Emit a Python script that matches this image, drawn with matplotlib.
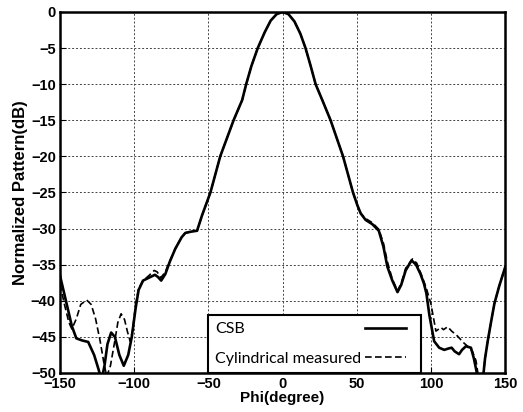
import matplotlib
matplotlib.use("Agg")
import matplotlib.pyplot as plt

# CSB (simulated) pattern, solid line
phi_csb = [-150, -146, -142, -139, -135, -131, -127, -124, -122, -120, -118, -115.5,
           -113, -110, -107, -104, -101.6, -99, -97, -94, -90, -86, -84, -81.8, -79,
           -76, -72.3, -68, -65.5, -61, -57.6, -54.3, -48.6, -42, -33, -27.2, -24.5,
           -21, -16.7, -12, -8, -4, 0, 4, 8, 12, 15.5, 19, 22.3, 26.8, 32.4, 40.8,
           47.5, 50.5, 52.7, 56, 60.6, 64.9, 68, 70.7, 74, 77.5, 80, 83, 87, 90, 93,
           95.3, 97, 99, 102.2, 105.6, 109, 112, 114, 116, 119, 121, 123.6, 127, 129,
           131, 133, 135, 136.5, 138.3, 140.5, 142.8, 146, 150]
csb_db = [-36.5, -40, -43.5, -45.2, -45.5, -45.7, -47.5, -49.5, -51, -49, -46, -44.4,
          -45, -47.5, -49, -47.5, -45, -41, -38.5, -37.2, -36.8, -36.4, -36.7, -37.2, -36.3,
          -34.6, -32.8, -31.2, -30.6, -30.4, -30.3, -28.2, -25, -20, -15, -12.2, -10,
          -7.5, -5, -2.8, -1.2, -0.3, 0, -0.3, -1.3, -3, -5, -7.5, -10, -12.2, -15, -20,
          -25, -26.8, -27.9, -28.8, -29.4, -30.3, -32.5, -35.3, -37.2, -38.8, -37.8, -35.8, -34.4, -35, -36.3,
          -37.6, -39, -42, -45.6, -46.5, -46.8, -46.6, -46.5, -47, -47.4, -46.8, -46.3, -46.5, -48,
          -50, -52, -51, -48, -45.6, -43, -40.4, -38, -35.4]

# cylindrical near-field measurement, dashed line
phi_meas = [-150, -147, -144, -142, -139, -136, -132, -129, -126, -123, -120.5, -118.5,
            -116, -113, -111, -108.8, -106.5, -104.5, -102.7, -101, -99, -97, -94, -90,
            -86.5, -84.5, -82, -79, -76, -72.3, -68, -65.5, -61, -57.6, -54.3, -48.6, -42,
            -33, -27.2, -24.5, -21, -16.7, -12, -8, -4, 0, 4, 8, 12, 15.5, 19, 22.3, 26.8,
            32.4, 40.8, 47.5, 50.5, 52.7, 56, 60.6, 64.9, 68, 70.7, 74, 77.5, 80, 83, 87.6,
            90.5, 94, 97, 100, 103.4, 106.8, 108.5, 111.3, 114, 118, 122, 125.9, 128, 130.4,
            132.4, 134, 135, 136.5, 138.3, 140.5, 142.8, 146, 150]
meas_db = [-37.7, -40.5, -43, -43.9, -42.5, -40.5, -39.9, -40.5, -42.5, -45.5, -48.5, -50.5,
           -49, -45.5, -43, -41.8, -42.6, -44.3, -45.6, -44, -40.5, -38.3, -37.2, -36.5,
           -35.8, -36, -36.8, -36, -34.5, -32.8, -31.2, -30.6, -30.4, -30.3, -28.2, -25, -20,
           -15, -12.2, -10, -7.5, -5, -2.8, -1.2, -0.3, 0, -0.3, -1.3, -3, -5, -7.5, -10, -12.2,
           -15, -20, -25, -26.8, -27.9, -28.6, -29.2, -30.1, -32, -34.6, -37, -38.6, -37.6, -35.5, -34.2,
           -34.8, -36.6, -38.3, -40.4, -44.2, -43.7, -44, -43.6, -44.2, -44.9, -45.8, -46.5, -47, -48.3,
           -51, -52, -51, -48, -45.6, -43, -40.4, -38, -35.4]

x_ticks = [-150, -100, -50, 0, 50, 100, 150]
y_ticks = [0, -5, -10, -15, -20, -25, -30, -35, -40, -45, -50]

fig = plt.figure(figsize=(5.23, 4.12), dpi=100)
ax = fig.add_axes([0.1147, 0.0947, 0.851, 0.8762])

ax.plot(phi_csb, csb_db, color="black", lw=1.9, label="CSB", zorder=3)
ax.plot(phi_meas, meas_db, color="black", lw=1.2, linestyle=(0, (4, 2)),
        label="Cylindrical measured", zorder=2)

ax.set_xlim(-150, 150)
ax.set_ylim(-50, 0)
ax.set_xticks(x_ticks)
ax.set_yticks(y_ticks)
ax.grid(True, color="#444444", linestyle=(0, (2, 2)), linewidth=0.7)

for s in ax.spines.values():
    s.set_linewidth(1.8)
ax.tick_params(direction="in", length=4, width=0.8, pad=3)
for lab in ax.get_xticklabels() + ax.get_yticklabels():
    lab.set_fontfamily("Liberation Sans")
    lab.set_fontweight("bold")
    lab.set_fontsize(10.5)

ax.set_xlabel("Phi(degree)", fontfamily="Liberation Sans", fontweight="bold",
              fontsize=11, labelpad=0)
ax.set_ylabel("Normalized Pattern(dB)", fontfamily="Liberation Sans", fontweight="bold",
              fontsize=12, labelpad=2)

leg = ax.legend(loc="lower left", bbox_to_anchor=(0.333, 0.0, 0.478, 0.177),
                mode="expand", markerfirst=False, fancybox=False, framealpha=1,
                edgecolor="black", prop={"family": "Lato", "size": 11.5},
                borderaxespad=0, handlelength=2.6, handletextpad=0.2,
                borderpad=0.45, labelspacing=0.95)
leg.get_frame().set_linewidth(1.5)
leg.set_zorder(5)

# left-align the labels and keep the line samples lined up on the right
fig.canvas.draw()
renderer = fig.canvas.get_renderer()
texts = leg.get_texts()
widths = [t.get_window_extent(renderer).width for t in texts]
column = leg._legend_handle_box.get_children()[0]
column.align = "left"
rows = column.get_children()
wmax = max(widths)
for row, w in zip(rows, widths):
    row.sep = row.sep + (wmax - w) * 72.0 / fig.dpi

fig.savefig("out.png", dpi=100)
